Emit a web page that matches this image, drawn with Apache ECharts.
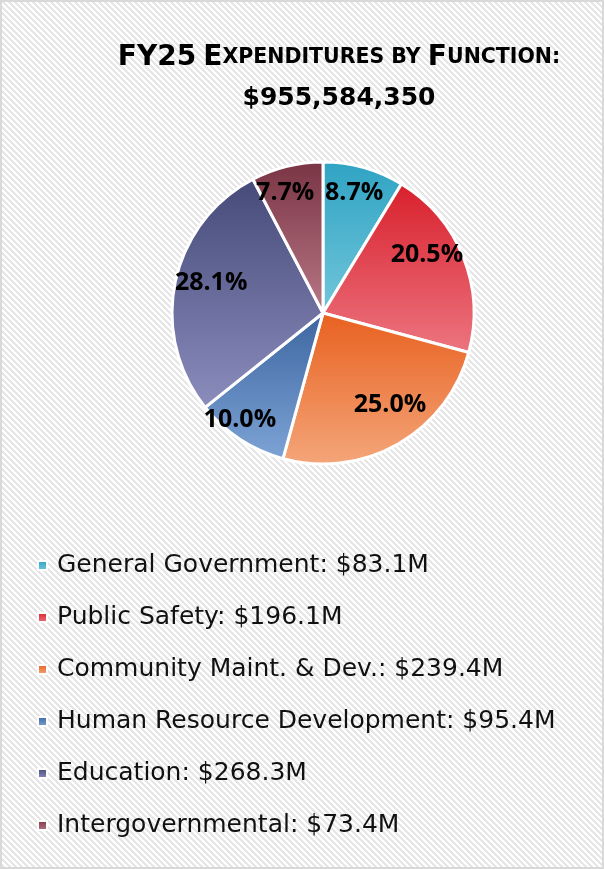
<!DOCTYPE html>
<html>
<head>
<meta charset="utf-8">
<script src="https://cdn.jsdelivr.net/npm/echarts@6/dist/echarts.min.js"></script>
<style>
html,body{margin:0;padding:0;background:#fff;}
#chart{width:604px;height:869px;}
</style>
</head>
<body>
<div id="chart"></div>
<script>
// ---- data ----
var categories = ['General Government', 'Public Safety', 'Community Maint. & Dev.', 'Human Resource Development', 'Education', 'Intergovernmental'];
var valuesM = [83.1, 196.1, 239.4, 95.4, 268.3, 73.4];
var percentLabels = ['8.7%', '20.5%', '25.0%', '10.0%', '28.1%', '7.7%'];
var titleLine1 = 'FY25 Expenditures by Function:';
var titleLine2 = '$955,584,350';

// ---- style ----
var gradTop = ['#2fa3c3', '#d8202c', '#e8601f', '#3c65a0', '#454a78', '#7a3444'];
var gradBottom = ['#72c6da', '#ec7580', '#f4a67a', '#7ea4d6', '#8b8dbd', '#b87886'];
var labelShift = [[10, -45], [31, -29], [28, 24], [-40, 41], [-35, -14], [-19, -44]];

function grad(i) {
  return new echarts.graphic.LinearGradient(0, 0, 0, 1, [
    {offset: 0, color: gradTop[i]}, {offset: 1, color: gradBottom[i]}
  ]);
}

// hatch pattern
var tile = document.createElement('canvas');
tile.width = 6; tile.height = 6;
var tc = tile.getContext('2d');
tc.fillStyle = '#ffffff'; tc.fillRect(0, 0, 6, 6);
tc.fillStyle = '#e6e6e6';
for (var y = 0; y < 6; y++) for (var x = 0; x < 6; x++) {
  if (((x - y) % 6 + 6) % 6 < 3) tc.fillRect(x, y, 1, 1);
}

// small-caps title as rich text
function smallCaps(str) {
  var out = '';
  var words = str.split(' ');
  words.forEach(function (w, wi) {
    var seg = '';
    for (var k = 0; k < w.length; k++) {
      var ch = w[k];
      var isBig = (ch === ch.toUpperCase() && ch !== ch.toLowerCase()) || /[0-9]/.test(ch);
      if (isBig) {
        if (seg) { out += '{sc|' + seg.toUpperCase() + '}'; seg = ''; }
        out += '{big|' + ch + '}';
      } else seg += ch;
    }
    if (seg) out += '{sc|' + seg.toUpperCase() + '}';
    if (wi < words.length - 1) out += '{sc| }';
  });
  return out;
}

var data = categories.map(function (c, i) {
  return {name: c, value: valuesM[i], itemStyle: {color: grad(i)}};
});

var chart = echarts.init(document.getElementById('chart'), null, {renderer: 'canvas'});
chart.setOption({
  backgroundColor: 'transparent',
  animation: false,
  graphic: [{
    type: 'rect', z: -10, silent: true,
    shape: {x: 1, y: 1, width: 602, height: 867},
    style: {fill: {image: tile, repeat: 'repeat'}, stroke: '#d9d9d9', lineWidth: 2}
  }],
  title: {
    left: 334, top: 32, textAlign: 'center',
    text: smallCaps(titleLine1) + '\n{num|' + titleLine2 + '}',
    textStyle: {
      rich: {
        big: {fontFamily: 'DejaVu Sans', fontWeight: 'bold', fontSize: 28, color: '#000', lineHeight: 41},
        sc: {fontFamily: 'DejaVu Sans', fontWeight: 'bold', fontSize: 20.5, color: '#000', lineHeight: 41},
        num: {fontFamily: 'DejaVu Sans', fontWeight: 'bold', fontSize: 25, color: '#000', lineHeight: 41}
      }
    }
  },
  legend: {
    orient: 'vertical', left: 32, top: 548,
    itemWidth: 9, itemHeight: 9, icon: 'rect', itemGap: 27,
    textStyle: {fontFamily: 'DejaVu Sans', fontSize: 25, color: '#111', lineHeight: 25, padding: [0, 0, 0, 5]},
    formatter: function (name) {
      var i = categories.indexOf(name);
      return name + ': $' + valuesM[i].toFixed(1) + 'M';
    }
  },
  series: [{
    type: 'pie',
    center: [323, 313], radius: 151,
    startAngle: 90, clockwise: true,
    avoidLabelOverlap: false,
    itemStyle: {borderColor: '#fff', borderWidth: 3},
    label: {
      show: true, position: 'inside',
      fontFamily: 'Open Sans', fontWeight: 'bold', fontSize: 25, color: '#000',
      formatter: function (p) { return percentLabels[p.dataIndex]; }
    },
    labelLayout: function (p) {
      return {dx: labelShift[p.dataIndex][0], dy: labelShift[p.dataIndex][1]};
    },
    labelLine: {show: false},
    emphasis: {disabled: true},
    data: data
  }]
});
</script>
</body>
</html>
